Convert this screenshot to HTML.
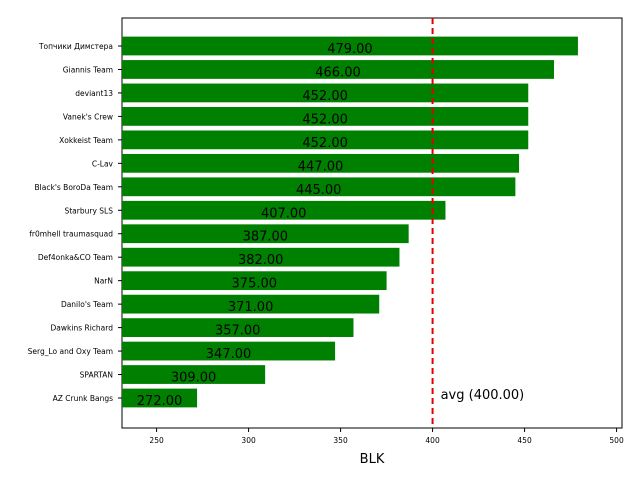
<!DOCTYPE html>
<html><head><meta charset="utf-8"><style>body{margin:0;background:#fff}svg{display:block}text{font-family:"DejaVu Sans","Liberation Sans",sans-serif}</style></head>
<body>
<svg id="c" width="640" height="480"></svg>
<script>
const teams=["Топчики Димстера","Giannis Team","deviant13","Vanek's Crew","Xokkeist Team","C-Lav","Black's BoroDa Team","Starbury SLS","fr0mhell traumasquad","Def4onka&CO Team","NarN","Danilo's Team","Dawkins Richard","Serg_Lo and Oxy Team","SPARTAN","AZ Crunk Bangs"];
const values=[479,466,452,452,452,447,445,407,387,382,375,371,357,347,309,272];
const xTicks=[250,300,350,400,450,500];
const avgValue=400;
const NS="http://www.w3.org/2000/svg";
const svg=document.getElementById('c');
const L=122,R=622,T=18,B=428;
const xmin=231.2,xmax=502.95;
const x=v=>L+(v-xmin)/(xmax-xmin)*(R-L);
const step=(398-46)/(values.length-1);
const y=i=>46+i*step;
function mk(t,a,txt){const e=document.createElementNS(NS,t);for(const k in a)e.setAttribute(k,a[k]);if(txt!==undefined)e.textContent=txt;svg.appendChild(e);return e;}
let fr=mk('rect',{x:L,y:T,width:R-L,height:B-T,fill:'none',stroke:'#000','stroke-width':1});


values.forEach((v,i)=>{
 const b=mk('rect',{x:L,y:y(i)-step*0.4,width:x(v)-L,height:step*0.8,fill:'#008000'});
 
 
 const t=mk('text',{x:(L+x(v))/2,y:y(i)+7,'text-anchor':'middle','font-size':13,fill:'#000'},v.toFixed(2));
 
 
 const yl=mk('text',{x:113,y:y(i)+3,'text-anchor':'end','font-size':7.5,fill:'#000'},teams[i]);
 
 
 mk('line',{x1:L-4,x2:L,y1:y(i),y2:y(i),stroke:'#000'});
});
xTicks.forEach(v=>{
 mk('line',{x1:x(v),x2:x(v),y1:B,y2:B+4,stroke:'#000'});
 const t=mk('text',{x:x(v),y:B+15,'text-anchor':'middle','font-size':7.5,fill:'#000'},v);
 
 
});
const al=mk('line',{x1:x(avgValue),x2:x(avgValue),y1:T,y2:B,stroke:'#e00000','stroke-width':2,'stroke-dasharray':'6,4'});


const at=mk('text',{x:x(avgValue)+8,y:399,'font-size':13,fill:'#000'},'avg ('+avgValue.toFixed(2)+')');


const xt=mk('text',{x:372,y:463,'text-anchor':'middle','font-size':13,fill:'#000'},'BLK');


</script>
</body></html>
